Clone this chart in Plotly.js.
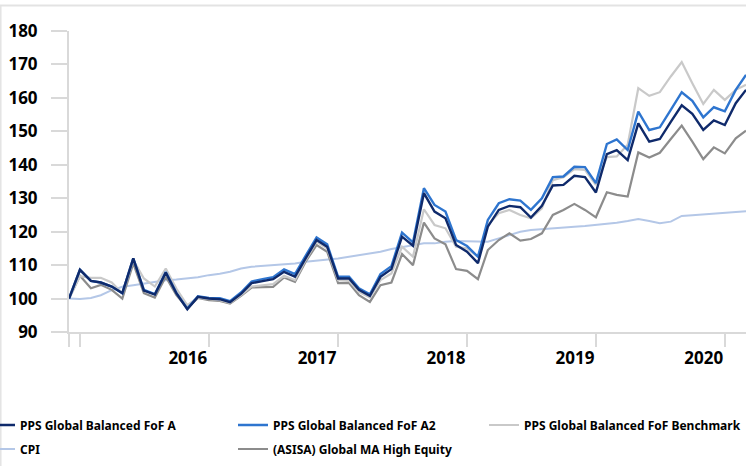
<!DOCTYPE html>
<html>
<head>
<meta charset="utf-8">
<script src="https://cdn.plot.ly/plotly-3.0.1.min.js"></script>
<style>
  html, body { margin: 0; padding: 0; background: #ffffff; }
  #chart { width: 746px; height: 466px; }
</style>
</head>
<body>
<div id="chart"></div>
<script>
// Monthly observations (Dec 2014 - Mar 2020)
const months = [
  "2014-12",
  "2015-01","2015-02","2015-03","2015-04","2015-05","2015-06","2015-07","2015-08","2015-09","2015-10","2015-11","2015-12",
  "2016-01","2016-02","2016-03","2016-04","2016-05","2016-06","2016-07","2016-08","2016-09","2016-10","2016-11","2016-12",
  "2017-01","2017-02","2017-03","2017-04","2017-05","2017-06","2017-07","2017-08","2017-09","2017-10","2017-11","2017-12",
  "2018-01","2018-02","2018-03","2018-04","2018-05","2018-06","2018-07","2018-08","2018-09","2018-10","2018-11","2018-12",
  "2019-01","2019-02","2019-03","2019-04","2019-05","2019-06","2019-07","2019-08","2019-09","2019-10","2019-11","2019-12",
  "2020-01","2020-02","2020-03"
];

const fundA = [
  100, 108.6, 105.3, 104.8, 103.6, 101.6, 112, 102.4, 101.2, 107.8,
  101.6, 96.8, 100.5, 100, 99.8, 98.9, 101.4, 104.6, 105.2, 105.8,
  108, 106.5, 112, 117.5, 115.5, 106, 106, 102.6, 100.8, 106.5,
  108.8, 118.5, 115.8, 131.5, 126, 124, 116, 114, 110.6, 121.5,
  126.5, 127.7, 127.3, 124.2, 127.7, 133.8, 134, 136.7, 136.3, 131.7,
  143.2, 144.4, 141.4, 152.4, 146.9, 147.7, 152.8, 157.8, 155.2, 150.4,
  153.3, 151.9, 158.4, 162.4
];

const fundA2 = [
  100, 108.6, 105.3, 104.8, 103.6, 101.6, 112, 102.6, 101.3, 107.9,
  101.7, 97, 100.7, 100.2, 100.1, 99.2, 101.8, 105.1, 105.8, 106.4,
  108.7, 107.3, 112.8, 118.3, 116.2, 106.5, 106.5, 103.1, 101.3, 107.3,
  109.7, 119.7, 116.8, 133, 128, 126, 117.5, 115.7, 112.5, 123.5,
  128.5, 129.7, 129.3, 126.5, 130, 136.3, 136.5, 139.4, 139.3, 134.5,
  146.2, 147.6, 144.4, 155.9, 150.4, 151.2, 156.4, 161.7, 159.1, 154.2,
  157.2, 156, 162.4, 166.9
];

const benchmark = [
  100, 106.7, 106.2, 106.2, 104.8, 101.6, 111.5, 106, 103.6, 109,
  103, 98, 100.3, 100, 99.5, 98.7, 101, 103.6, 104, 104.3,
  106.8, 105.5, 111.5, 117, 115, 105.5, 105.3, 102, 100.3, 105.5,
  107.5, 115.5, 112.5, 126.7, 122, 121, 115.5, 115, 112.5, 122,
  125.5, 126.5, 125, 124, 127, 135.4, 136.3, 138.7, 138.5, 134,
  142.3, 142.5, 146, 162.9, 160.6, 161.7, 166.4, 170.7, 164.4, 158.2,
  162.4, 159.4, 162.4, 163.9
];

const cpi = [
  100, 99.9, 100.2, 101, 102.5, 103.5, 104, 104.5, 105.2, 105.5,
  105.7, 106, 106.4, 107, 107.4, 108, 109, 109.5, 109.7, 110,
  110.2, 110.5, 111, 111.3, 111.5, 112, 112.5, 113, 113.5, 114,
  114.8, 115.3, 116, 116.5, 116.5, 117, 117.2, 117.2, 117, 117,
  118, 119, 120, 120.5, 120.8, 121, 121.3, 121.5, 121.7, 122,
  122.3, 122.7, 123.2, 123.8, 123.2, 122.5, 123, 124.7, 124.9, 125.1,
  125.5, 125.5, 125.8, 126.1
];

const asisa = [
  100, 106.8, 103.1, 104.1, 102.6, 100, 110.5, 101.6, 100.3, 106.5,
  101, 97.1, 100.2, 99.5, 99.3, 98.5, 100.8, 103.3, 103.4, 103.5,
  106.3, 105, 111, 116, 114, 104.6, 104.6, 101, 99, 104,
  104.8, 113.3, 110, 122.7, 118, 116.2, 108.8, 108.3, 105.8, 114.5,
  117.5, 119.5, 117.3, 117.8, 119.5, 125, 126.5, 128.3, 126.5, 124.3,
  131.8, 131, 130.5, 143.7, 142.2, 143.6, 147.7, 151.7, 146.9, 141.7,
  145.2, 143.4, 147.9, 150.2
];

const tickDates = ["2014-12-01","2015-01-01","2016-01-01","2017-01-01","2018-01-01","2019-01-01","2020-01-01"];
const tickLabels = ["", "", "2016", "2017", "2018", "2019", "2020"];

const FONT = "'Noto Sans', 'Open Sans', sans-serif";

// Plot-area geometry helpers (pixels -> paper)
const L = 69, T = 31, W = 746, H = 466, PW = W - L, PH = 301;
const px = x => (x - L) / PW;
const py = y => (T + PH - y) / PH;

function series(name, y, color, width, legendId) {
  return {
    type: "scatter", mode: "lines", name: name,
    x: months, y: y,
    line: { color: color, width: width },
    legend: legendId,
    hoverinfo: "skip"
  };
}

const traces = [
  series("CPI", cpi, "#b4c7e7", 2, "legend4"),
  series("(ASISA) Global MA High Equity", asisa, "#8c8c8c", 2.2, "legend5"),
  series("PPS Global Balanced FoF Benchmark", benchmark, "#c9c9c9", 2.2, "legend3"),
  series("PPS Global Balanced FoF A2", fundA2, "#2e75cf", 2.4, "legend2"),
  series("PPS Global Balanced FoF A", fundA, "#0f2a6b", 2.4, "legend")
];

function leg(xPix, yPix) {
  return {
    x: px(xPix), y: py(yPix), xanchor: "left", yanchor: "middle",
    orientation: "v", bgcolor: "rgba(0,0,0,0)", borderwidth: 0,
    font: { family: FONT, size: 12, color: "#000000", weight: 700 }
  };
}

const layout = {
  width: W, height: H,
  margin: { l: L, r: 0, t: T, b: H - T - PH, pad: 0, autoexpand: false },
  paper_bgcolor: "#ffffff", plot_bgcolor: "#ffffff",
  showlegend: true,
  xaxis: {
    type: "date",
    range: ["2014-12-01", "2020-03-01"],
    tickmode: "array", tickvals: tickDates, ticktext: tickLabels,
    ticks: "outside", ticklen: 13, tickwidth: 2, tickcolor: "#d9d9d9",
    showline: true, linecolor: "#d9d9d9", linewidth: 2,
    showgrid: false, zeroline: false,
    ticklabelshift: -21, ticklabelstandoff: -3,
    tickfont: { family: FONT, size: 17, color: "#000000", weight: 700 },
    fixedrange: true
  },
  yaxis: {
    range: [90, 180], tickmode: "linear", tick0: 90, dtick: 10,
    ticks: "outside", ticklen: 16, tickwidth: 2, tickcolor: "#d9d9d9",
    showline: true, linecolor: "#d9d9d9", linewidth: 2,
    showgrid: false, zeroline: false,
    ticklabelstandoff: 10,
    tickfont: { family: FONT, size: 17, color: "#000000", weight: 700 },
    fixedrange: true
  },
  legend: leg(-20, 425),
  legend2: leg(233, 425),
  legend3: leg(484, 425),
  legend4: leg(-20, 449),
  legend5: leg(233, 449),
  shapes: [
    { type: "line", xref: "paper", yref: "paper", x0: px(0), x1: px(746), y0: py(5.5), y1: py(5.5),
      line: { color: "#e3e3e3", width: 2 } },
    { type: "line", xref: "paper", yref: "paper", x0: px(0.8), x1: px(0.8), y0: py(5.5), y1: py(466),
      line: { color: "#e3e3e3", width: 1.5 } }
  ]
};

Plotly.newPlot("chart", traces, layout, { displayModeBar: false, staticPlot: true });
</script>
</body>
</html>
